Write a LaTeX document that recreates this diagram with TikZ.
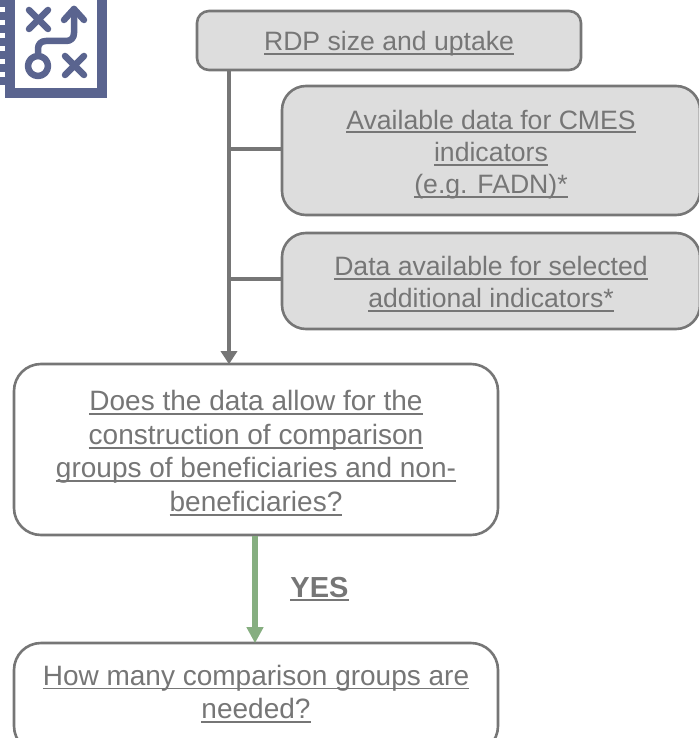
\documentclass[tikz,border=0pt]{standalone}
\usepackage{fontspec}
\setmainfont{Liberation Sans}
\usetikzlibrary{arrows.meta,positioning}
\definecolor{boxline}{HTML}{767676}
\definecolor{boxfill}{HTML}{DDDDDD}
\definecolor{yesgreen}{HTML}{86AE80}
\definecolor{iconblue}{HTML}{5A648F}
\newcommand{\ul}[1]{\leavevmode\setbox0=\hbox{#1}\rlap{\rule[-4.2pt]{\wd0}{1.9pt}}\box0}
\newcommand{\padtop}[1]{\rule{0pt}{#1}}
\newcommand{\padbot}[1]{\rule[-#1]{0pt}{#1}}

\begin{document}
\begin{tikzpicture}[
    x=1pt,y=-1pt,
    normal line/.style={-{Triangle[length=13pt,width=16pt]},line width=4.4pt,draw=boxline,shorten >=-1.5pt},
    branch line/.style={line width=4.4pt,draw=boxline},
    yes line/.style={-{Triangle[length=16pt,width=16pt]},line width=5.6pt,draw=yesgreen,shorten >=-1.5pt},
    grey box/.style={draw=boxline,line width=2.6pt,fill=boxfill,rounded corners=12pt,align=center,inner sep=0pt,text=boxline,font=\fontsize{26.6}{32.3}\selectfont},
    big grey box/.style={grey box,rounded corners=24pt},
    white box/.style={grey box,fill=white,rounded corners=27pt,font=\fontsize{28}{33.6}\selectfont},
    icon line/.style={draw=iconblue,line width=6.5pt,line cap=round,line join=round},
]
\useasboundingbox (0,0) rectangle (699,738);
\clip (0,0) rectangle (699,738);
% icon
\fill[iconblue] (5,-2) rectangle (107,98);
\fill[white] (15,-2) rectangle (97,88);
\foreach \y in {-1,12,25,38,51,64,77} {
    \fill[iconblue] (0,\y) rectangle (5,\y+8);
}
\draw[icon line] (29,10) -- (48,29) (48,10) -- (29,29);
\draw[icon line] (65,56) -- (84,75) (84,56) -- (65,75);
\draw[icon line] (38,66) circle (10);
\draw[icon line] (38,55) -- (38,49) .. controls (38,44) and (41,41) .. (46,41) -- (66,41) .. controls (71,41) and (74,38) .. (74,33) -- (74,9);
\draw[icon line] (64,20) -- (74,9) -- (84,20);
% boxes
\node[grey box,minimum width=384pt,minimum height=59pt] (rdp) at (389,40.5) {\padtop{25.4pt}\ul{RDP size and uptake}};
\node[big grey box,minimum width=418pt,minimum height=129pt] (avail) at (491,150.5) {\padtop{27.4pt}\ul{Available data for CMES}\\\ul{indicators}\\\ul{(e.g. FADN)*}};
\node[big grey box,minimum width=418pt,minimum height=96pt] (data) at (491,281) {\padtop{25.4pt}\ul{Data available for selected}\\\ul{additional indicators*}};
\node[white box,minimum width=484pt,minimum height=171pt] (question) at (256,449.5) {\padtop{27.4pt}\ul{Does the data allow for the}\\\ul{construction of comparison}\\\ul{groups of beneficiaries and non-}\\\ul{beneficiaries?}};
\node[white box,minimum width=484pt,minimum height=110pt] (many) at (256,698) {\ul{How many comparison groups are}\\\padbot{12.2pt}\ul{needed?}};
\node[text=boxline,inner sep=0pt,font=\fontsize{29}{32}\selectfont\bfseries] (yes) at (319.5,589) {\ul{YES}};
% connectors
\coordinate (trunk) at (229,70);
\coordinate (branch-1) at (229,149);
\coordinate (branch-2) at (229,279);
\path[branch line]
    (branch-1) edge (branch-1 -| avail.west)
    (branch-2) edge (branch-2 -| data.west);
\draw[normal line] (trunk) -- (trunk |- question.north);
\draw[yes line] (question.south -| 255,0) -- (many.north -| 255,0);
\end{tikzpicture}
\end{document}
